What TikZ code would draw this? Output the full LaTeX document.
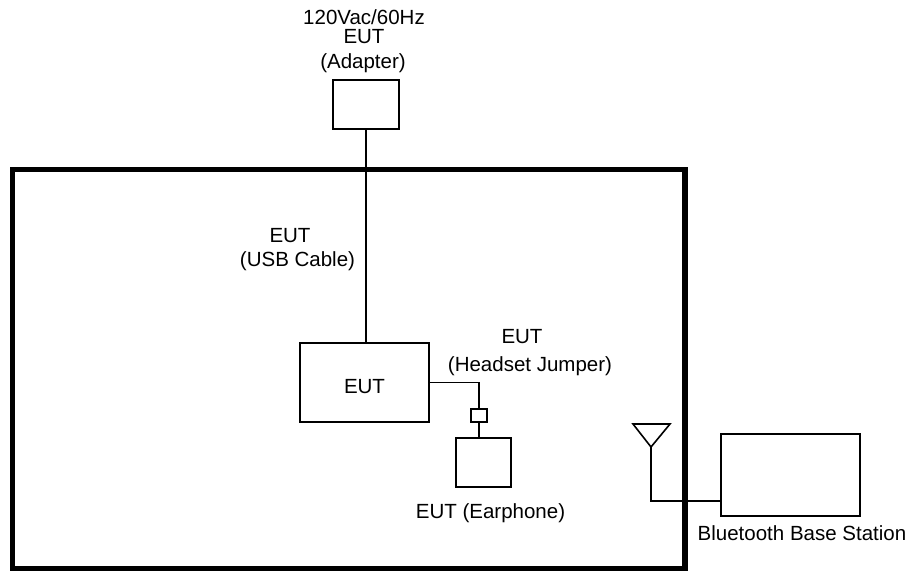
\documentclass[tikz,border=0pt]{standalone}
\usepackage{fontspec}
\setmainfont{Liberation Sans}
\begin{document}
\begin{tikzpicture}[x=1pt,y=-1pt,
  thin line/.style={line width=1.6pt, draw=black},
  box/.style={thin line, rectangle, inner sep=0pt, outer sep=0pt},
  lbl/.style={anchor=base, inner sep=0pt, font=\fontsize{20.5}{24}\selectfont}]
\useasboundingbox (0,0) rectangle (911,572);
% enclosure
\draw[line width=5.5pt, line join=miter] (12.5,169.5) rectangle (685,568.5);
% boxes
\node[box, minimum width=66pt, minimum height=49pt] (adapter) at (366,104.5) {};
\node[box, minimum width=129pt, minimum height=79pt, text height=22.7pt, text depth=0pt,
      font=\fontsize{20.5}{24}\selectfont] (eut) at (364.5,382.5) {EUT};
\node[box, minimum width=16pt, minimum height=13pt] (conn) at (479,415.5) {};
\node[box, minimum width=55pt, minimum height=49pt] (ear) at (483.5,462.5) {};
\node[box, minimum width=139pt, minimum height=82pt] (bs) at (790.5,475) {};
% antenna
\coordinate (antL) at (633,424);
\coordinate (antR) at (670,424);
\coordinate (antA) at (651,447);
\coordinate (bsin) at (721,501);
\draw[thin line, line join=miter] (antL) -- (antR) -- (antA) -- cycle;
% connectors
\draw[thin line] (adapter.south) -- (adapter.south |- eut.north);
\draw[thin line] (eut.east) -| (conn.north);
\draw[thin line] (conn.south) -- (conn.south |- ear.north);
\draw[thin line] (antA) |- (bsin);
% labels
\node[lbl] (t1) at (364,24.5) {120Vac/60Hz};
\node[lbl] (t2) at (364,44) {EUT};
\node[lbl] (t3) at (363,68.3) {(Adapter)};
\node[lbl] (t4) at (290,243) {EUT};
\node[lbl] (t5) at (297.5,266.7) {(USB Cable)};
\node[lbl] (t6) at (522,344) {EUT};
\node[lbl] (t7) at (530,371.7) {(Headset Jumper)};
\node[lbl] (t8) at (490.5,518) {EUT (Earphone)};
\node[lbl] (t9) at (802,540) {Bluetooth Base Station};
\end{tikzpicture}
\end{document}
